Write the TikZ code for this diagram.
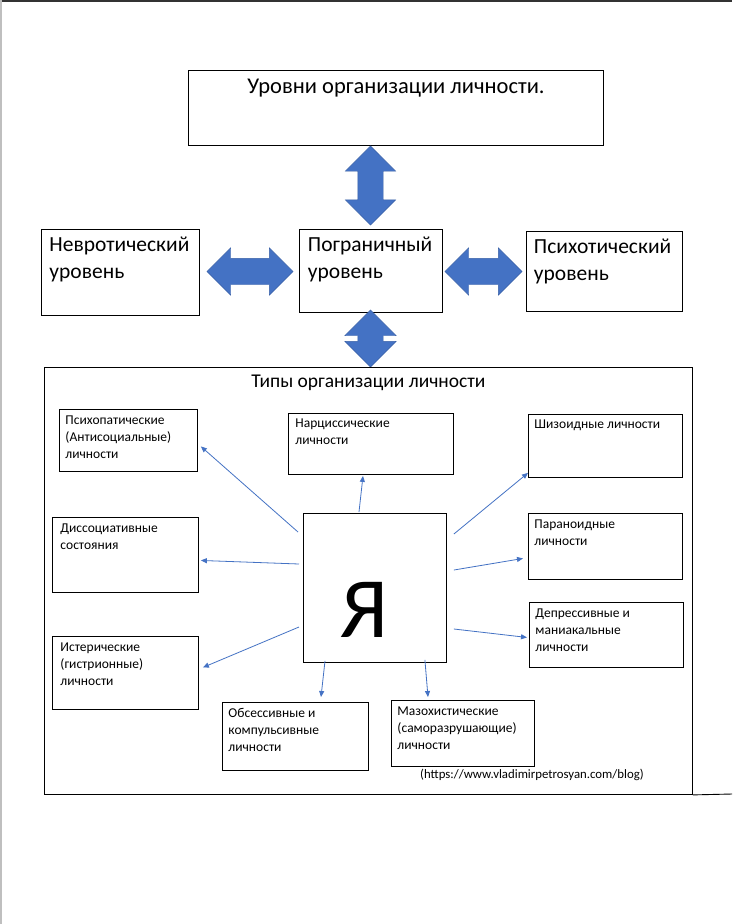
\documentclass[tikz,border=0pt]{standalone}
\usepackage{fontspec}
\setmainfont{Carlito}
\usetikzlibrary{arrows.meta,shapes.arrows,calc}
\definecolor{obl}{HTML}{4472C4}
% box text: width, height, left pad, first baseline, font size, baselineskip, text
\newcommand\bt[7]{\begin{minipage}[t][#2][t]{#1}\fontsize{#5}{#6}\selectfont\raggedright\leftskip=#3\relax\rule{0pt}{#4}#7\end{minipage}}
\newcommand\btc[6]{\begin{minipage}[t][#2][t]{#1}\fontsize{#4}{#5}\selectfont\centering\rule{0pt}{#3}#6\end{minipage}}
\begin{document}
\begin{tikzpicture}[x=1pt,y=-1pt,
  bx/.style={draw=black, line width=0.9pt, inner sep=0pt, anchor=north west, fill=white},
  blk/.style={double arrow, fill=obl, draw=obl!85!black, line width=0.4pt, inner xsep=0pt, double arrow tip angle=90},
  thin/.style={draw=obl, line width=0.8pt, -{Triangle[length=6pt,width=5pt]}}]
\useasboundingbox (0,0) rectangle (732,924);
\fill[white] (0,0) rectangle (732,924);
\fill[black!80] (0,0) rectangle (732,1.5);
\fill[black!25] (0,0) rectangle (1.8,924);

% top part
\node[bx] (T) at (188,70) {\btc{415pt}{75pt}{23pt}{22.5}{26}{Уровни организации личности.}};
\node[bx] (N) at (40.5,229) {\bt{158.5pt}{86pt}{8.5pt}{22pt}{21.5}{26.7}{Невротический\\уровень}};
\node[bx] (P) at (299,229) {\bt{142.5pt}{83pt}{8.5pt}{22pt}{21.5}{26.7}{Пограничный\\уровень}};
\node[bx] (S) at (525.5,231) {\bt{156pt}{80pt}{8pt}{22pt}{21.5}{26.7}{Психотический\\уровень}};

% block arrows
\node[blk, minimum height=79pt, minimum width=50pt, inner ysep=12.5pt, double arrow head extend=12.5pt, rotate=90] (A1) at (370.5,185.5) {};
\node[blk, minimum height=86pt, minimum width=47pt, inner ysep=13pt, double arrow head extend=10.5pt] (A2) at (250,271.5) {};
\node[blk, minimum height=77pt, minimum width=47pt, inner ysep=13pt, double arrow head extend=10.5pt] (A3) at (483.5,271.5) {};
\node[blk, minimum height=57pt, minimum width=51pt, inner ysep=12.5pt, double arrow head extend=13pt, rotate=90] (A4) at (370.5,338.5) {};

% outer box
\node[bx, fill=none] (O) at (44,367) {\btc{648pt}{427pt}{20pt}{19.5}{22}{Типы организации личности}};
\coordinate (edge) at (732,794);
\draw[line width=0.9pt] (O.south east) -- (edge);

% type boxes
\node[bx] (Psy) at (59,409) {\bt{138pt}{62pt}{6pt}{15pt}{13.5}{17}{Психопатические\\(Антисоциальные)\\личности}};
\node[bx] (Nar) at (288,413) {\bt{165pt}{61pt}{7pt}{14pt}{13.5}{17}{Нарциссические\\личности}};
\node[bx] (Shz) at (528,414) {\bt{154pt}{63pt}{6pt}{14pt}{13.5}{17}{Шизоидные личности}};
\node[bx] (Dis) at (52,517) {\bt{146pt}{75pt}{8pt}{15pt}{13.5}{17}{Диссоциативные\\состояния}};
\node[bx] (Ya) at (303,513) {\bt{143pt}{149pt}{37pt}{124pt}{86}{90}{Я}};
\node[bx] (Par) at (528,513) {\bt{154pt}{66pt}{6pt}{15pt}{13.5}{17}{Параноидные\\личности}};
\node[bx] (Dep) at (529,602) {\bt{154pt}{65pt}{6pt}{15pt}{13.5}{17}{Депрессивные и\\маниакальные\\личности}};
\node[bx] (His) at (52,636) {\bt{146pt}{73pt}{8pt}{15pt}{13.5}{17}{Истерические\\(гистрионные)\\личности}};
\node[bx] (Obs) at (222,702) {\bt{146pt}{68pt}{6pt}{15pt}{13.5}{17}{Обсессивные и\\компульсивные\\личности}};
\node[bx] (Mas) at (391,700) {\bt{143pt}{66pt}{6pt}{15pt}{13.5}{17}{Мазохистические\\(саморазрушающие)\\личности}};
\node[anchor=base west, inner sep=0pt, font=\fontsize{12.8}{15}\selectfont] (url) at (420,778) {(https://www.vladimirpetrosyan.com/blog)};

% thin arrows
\draw[thin] ($(Ya.north west)+(-5,19)$) -- ($(Psy.east)+(3,6)$);
\draw[thin] ($(Ya.north west)+(56,-1)$) -- ($(Nar.south west)+(75,1)$);
\draw[thin] ($(Ya.north east)+(7,21)$) -- ($(Shz.south west)+(0,-5)$);
\draw[thin] ($(Ya.north west)+(-4,51)$) -- ($(Dis.east)+(2,5.5)$);
\draw[thin] ($(Ya.north west)+(-4,114)$) -- ($(His.east)+(4,-5.5)$);
\draw[thin] ($(Ya.south west)+(22,-2)$) -- ($(Obs.north west)+(99,-5)$);
\draw[thin] ($(Ya.north east)+(7,57)$) -- ($(Par.west)+(-5,12)$);
\draw[thin] ($(Ya.north east)+(7,116)$) -- ($(Dep.west)+(-2,2.5)$);
\draw[thin] ($(Ya.south east)+(-22,-3)$) -- ($(Mas.north west)+(37,-3)$);
\end{tikzpicture}
\end{document}
